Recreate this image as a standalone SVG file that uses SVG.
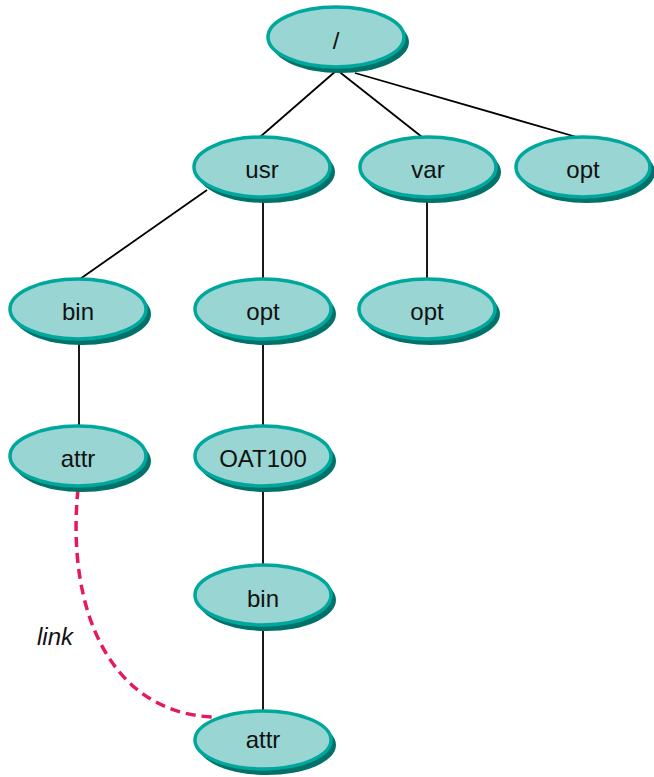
<svg xmlns="http://www.w3.org/2000/svg" width="654" height="777" viewBox="0 0 654 777">
<style>
.sh{fill:#00726a;}
.el{fill:#99d5d2;stroke:#00a79c;stroke-width:3.5;}
.lb{font-family:"Liberation Sans",Arial,sans-serif;font-size:24px;fill:#111;text-anchor:middle;}
.ln{stroke:#000;stroke-width:1.8;fill:none;}
.lk{stroke:#e6195c;stroke-width:3.5;fill:none;stroke-dasharray:10 6;}
</style>
<rect width="654" height="777" fill="#fff"/>
<g id="connectors">
<line class="ln" x1="337" y1="70" x2="260" y2="137"/>
<line class="ln" x1="337" y1="70" x2="422" y2="137"/>
<line class="ln" x1="355" y1="73" x2="580" y2="138"/>
<line class="ln" x1="207" y1="190" x2="80" y2="279"/>
<line class="ln" x1="263" y1="196" x2="263" y2="280"/>
<line class="ln" x1="427" y1="198" x2="427" y2="280"/>
<line class="ln" x1="79" y1="338" x2="79" y2="427"/>
<line class="ln" x1="263" y1="338" x2="263" y2="427"/>
<line class="ln" x1="263" y1="485" x2="263" y2="566"/>
<line class="ln" x1="263" y1="624" x2="263" y2="712"/>
<path class="lk" d="M78,489 C66,610 110,712 212,717"/>
<text x="37" y="645" font-family="Liberation Sans,Arial,sans-serif" font-size="24" font-style="italic" fill="#111">link</text>
</g>
<g id="root"><ellipse class="sh" cx="340" cy="42" rx="69" ry="31"/><ellipse class="el" cx="336" cy="37" rx="68" ry="30"/><text class="lb" x="336" y="49">/</text></g>
<g id="usr"><ellipse class="sh" cx="266" cy="172" rx="69" ry="31"/><ellipse class="el" cx="262" cy="167" rx="68" ry="30"/><text class="lb" x="262" y="178">usr</text></g>
<g id="var"><ellipse class="sh" cx="432" cy="172" rx="69" ry="31"/><ellipse class="el" cx="428" cy="167" rx="68" ry="30"/><text class="lb" x="428" y="178">var</text></g>
<g id="opt-root"><ellipse class="sh" cx="587" cy="172" rx="68" ry="31"/><ellipse class="el" cx="583" cy="167" rx="67" ry="30"/><text class="lb" x="583" y="178">opt</text></g>
<g id="bin-usr"><ellipse class="sh" cx="82" cy="314" rx="69" ry="31"/><ellipse class="el" cx="78" cy="309" rx="68" ry="30"/><text class="lb" x="78" y="320">bin</text></g>
<g id="opt-usr"><ellipse class="sh" cx="267" cy="314" rx="69" ry="31"/><ellipse class="el" cx="263" cy="309" rx="68" ry="30"/><text class="lb" x="263" y="320">opt</text></g>
<g id="opt-var"><ellipse class="sh" cx="431" cy="314" rx="69" ry="31"/><ellipse class="el" cx="427" cy="309" rx="68" ry="30"/><text class="lb" x="427" y="320">opt</text></g>
<g id="attr-bin"><ellipse class="sh" cx="82" cy="461" rx="69" ry="31"/><ellipse class="el" cx="78" cy="456" rx="68" ry="30"/><text class="lb" x="78" y="467">attr</text></g>
<g id="OAT100"><ellipse class="sh" cx="267" cy="461" rx="69" ry="31"/><ellipse class="el" cx="263" cy="456" rx="68" ry="30"/><text class="lb" x="263" y="467">OAT100</text></g>
<g id="bin-oat"><ellipse class="sh" cx="267" cy="600" rx="69" ry="31"/><ellipse class="el" cx="263" cy="595" rx="68" ry="30"/><text class="lb" x="263" y="607">bin</text></g>
<g id="attr-oat"><ellipse class="sh" cx="267" cy="745" rx="69" ry="30"/><ellipse class="el" cx="263" cy="740" rx="68" ry="29"/><text class="lb" x="263" y="748">attr</text></g>
</svg>
